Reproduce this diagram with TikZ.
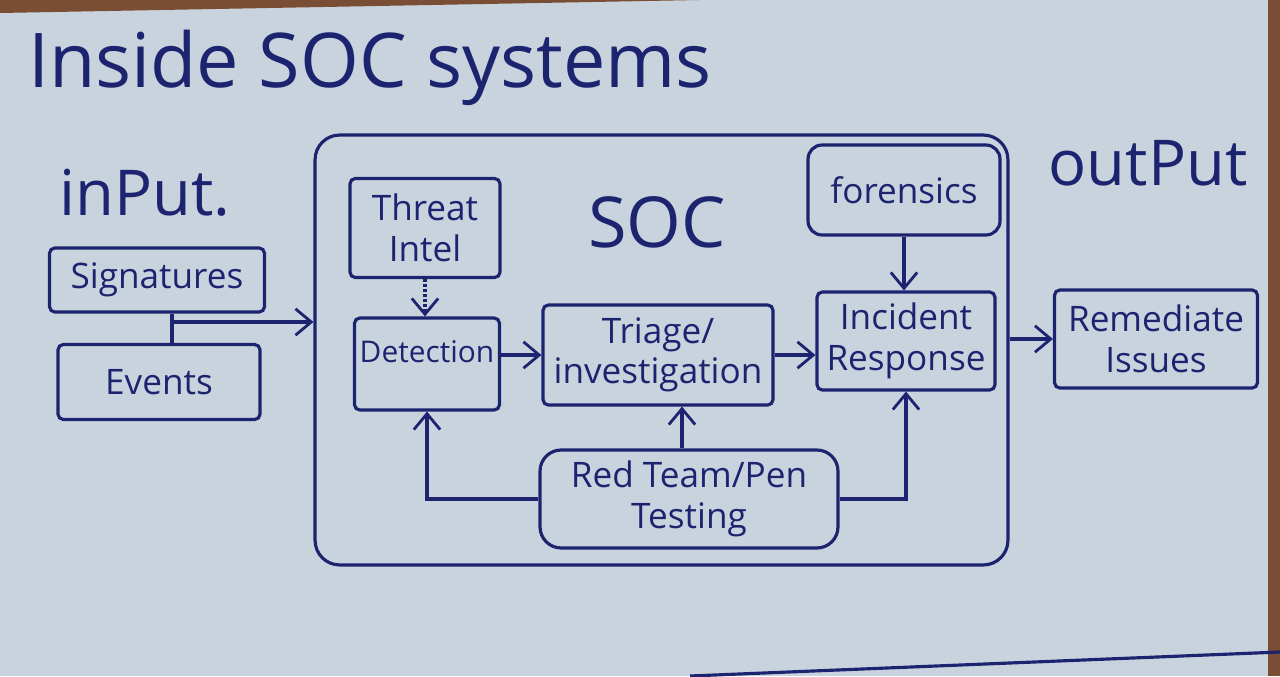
\documentclass[tikz,border=0pt]{standalone}
\usepackage{fontspec}
\setmainfont{Open Sans}
\usetikzlibrary{arrows.meta,calc}
\definecolor{paper}{HTML}{C9D3DE}
\definecolor{ink}{HTML}{1C2470}
\definecolor{wood}{HTML}{7A4E34}
\begin{document}
\begin{tikzpicture}[x=0.02cm,y=-0.02cm,
  box/.style={draw=ink,line width=1.8pt,rounded corners=3pt,align=center,
    font=\fontsize{20}{23}\selectfont,text=ink,inner sep=0pt},
  conn/.style={draw=ink,line width=1.8pt},
  arr/.style={conn,-{Straight Barb[length=9pt,width=15pt,line width=1.6pt]}},
  hand/.style={text=ink,inner sep=0pt}]
\useasboundingbox (0,0) rectangle (1280,676);
\fill[paper] (0,0) rectangle (1280,676);
\fill[wood] (0,0) -- (700,0) -- (0,13) -- cycle;
\fill[wood] (1268,0) rectangle (1280,676);
% titles
\node[hand,font=\fontsize{43}{47}\selectfont] (title) at (370,68) {Inside SOC systems};
\node[hand,font=\fontsize{36}{40}\selectfont] (inlbl) at (145,193) {inPut.};
\node[hand,font=\fontsize{36}{40}\selectfont] (outlbl) at (1148,163) {outPut};
% input boxes
\node[box,minimum width=4.3cm,minimum height=1.28cm] (sig) at (157,280) {Signatures};
\node[box,minimum width=4.04cm,minimum height=1.5cm] (ev) at (159,382) {Events};
% SOC container
\node[box,minimum width=13.86cm,minimum height=8.6cm,rounded corners=14pt] (soc) at (661.5,350) {};
\node[hand,font=\fontsize{40}{44}\selectfont] (soclbl) at (657,222) {SOC};
% inner boxes
\node[box,minimum width=3cm,minimum height=1.98cm] (ti) at (425,228) {Threat\\Intel};
\node[box,minimum width=2.9cm,minimum height=1.84cm,
  label={[font=\fontsize{17}{20}\selectfont,text=ink,anchor=north,yshift=-10pt]north:Detection}] (det) at (427,364) {};
\node[box,minimum width=4.6cm,minimum height=2cm] (tri) at (658,355) {Triage/\\investigation};
\node[box,minimum width=3.84cm,minimum height=1.8cm,rounded corners=8pt] (for) at (904,190) {forensics};
\node[box,minimum width=3.56cm,minimum height=1.96cm] (inc) at (906,341) {Incident\\Response};
\node[box,minimum width=5.96cm,minimum height=1.96cm,rounded corners=12pt] (rt) at (689,499) {Red Team/Pen\\Testing};
% output box
\node[box,minimum width=4.06cm,minimum height=1.96cm] (rem) at (1156,339) {Remediate\\Issues};
% connectors
\coordinate (j) at (172,322);
\draw[conn] (sig.south -| j) -- (ev.north -| j);
\draw[arr] (j) -- (soc.west |- j);
\draw[arr,densely dotted] (ti.south) -- (det.north -| ti.south);
\draw[arr] (det.east |- tri.west) -- (tri.west);
\draw[arr] (tri.east) -- (inc.west |- tri.east);
\draw[arr] (for.south) -- (inc.north -| for.south);
\draw[arr] ($(rt.north)+(-7,0)$) -- ($(tri.south)+(24,0)$);
\draw[arr] (rt.west) -- (det.south |- rt.west) -- (det.south);
\draw[arr] (rt.east) -- (inc.south |- rt.east) -- (inc.south);
\draw[arr] (soc.east |- rem.west) -- (rem.west);
\coordinate (b1) at (690,676);
\coordinate (b2) at (1280,652);
\draw[conn] (b1) -- (b2);
\end{tikzpicture}
\end{document}
